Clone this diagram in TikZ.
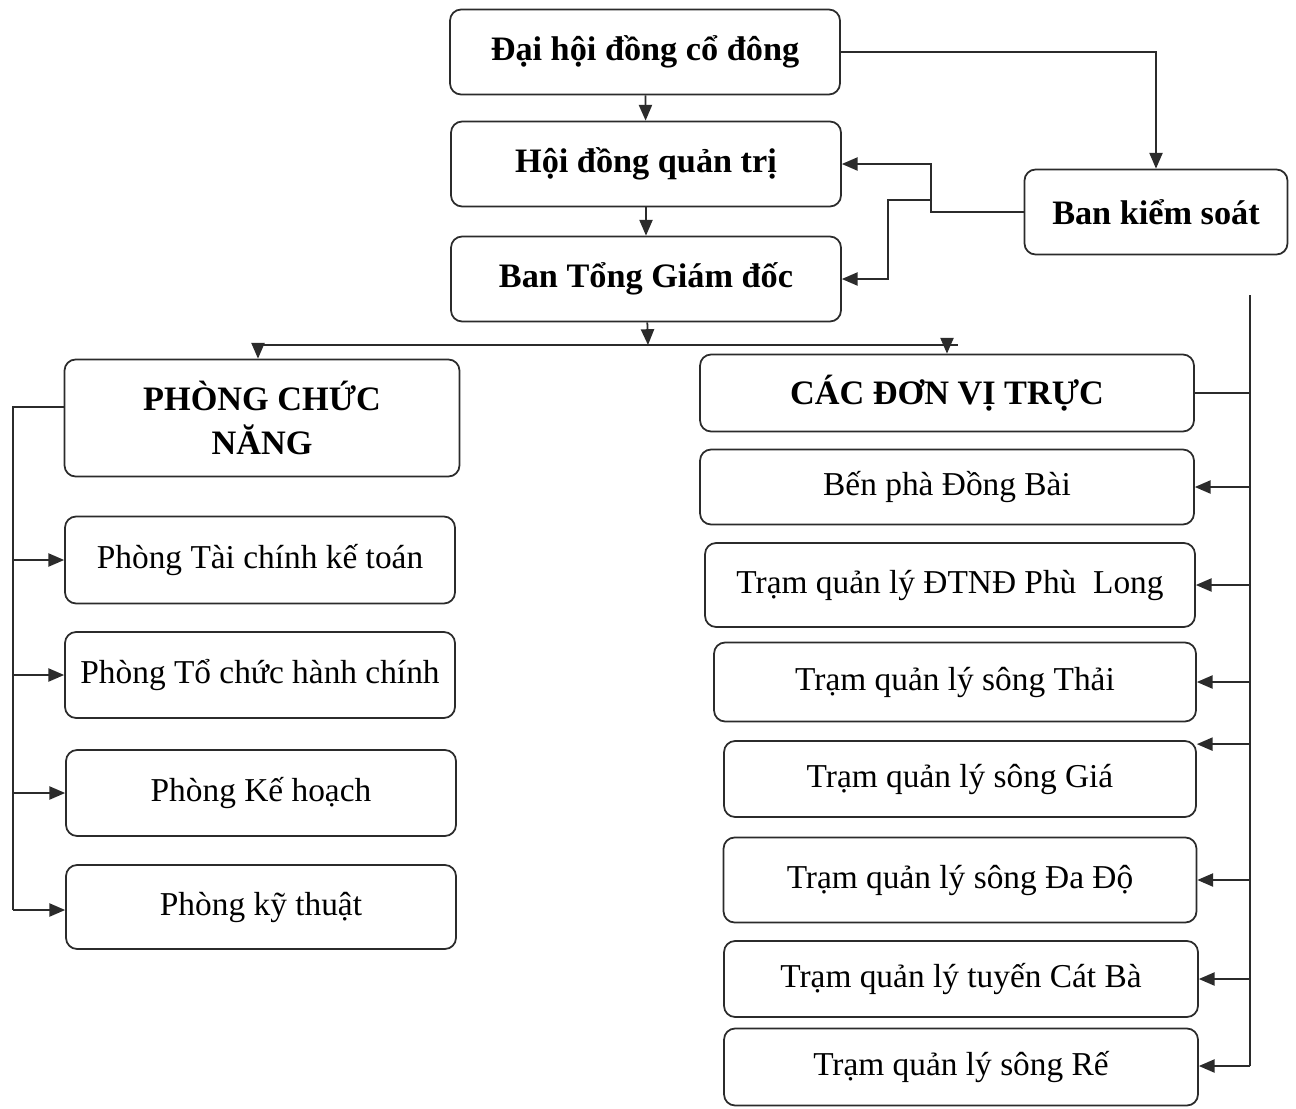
\documentclass[tikz,border=0pt]{standalone}
\usepackage{fontspec}
\setmainfont{Liberation Serif}
\usetikzlibrary{arrows.meta,positioning}
\definecolor{ink}{HTML}{2B2B2B}

\begin{document}
\begin{tikzpicture}[
    x=0.02cm, y=-0.02cm,
    every node/.style={font=\fontsize{19}{23}\selectfont},
    topbox/.style={rectangle, rounded corners=0.22cm, draw=ink, line width=1pt,
        minimum width=7.8cm, minimum height=1.7cm, align=center,
        font=\fontsize{19.5}{23}\selectfont\bfseries},
    headbox/.style={rectangle, rounded corners=0.22cm, draw=ink, line width=1pt,
        align=center, font=\fontsize{19.5}{25}\selectfont\bfseries},
    unitbox/.style={rectangle, rounded corners=0.22cm, draw=ink, line width=1pt,
        minimum height=1.6cm, align=center},
    link/.style={-{Triangle[length=9pt,width=7.5pt]}, draw=ink, line width=1pt},
    wire/.style={draw=ink, line width=1pt},
]
\useasboundingbox (0,0) rectangle (1296,1109);

% Top of the company
\node[topbox] (dhcd) at (645,52) {Đại hội đồng cổ đông};
\node[topbox] (hdqt) at (646,164) {Hội đồng quản trị};
\node[topbox] (btgd) at (646,279) {Ban Tổng Giám đốc};
\node[topbox, minimum width=5.26cm] (bks) at (1156,212) {Ban kiểm soát};

% Two branches
\node[headbox, minimum width=7.9cm, minimum height=2.34cm] (pcn) at (262,418) {PHÒNG CHỨC\\NĂNG};
\node[headbox, minimum width=9.88cm, minimum height=1.54cm] (cdvt) at (947,393) {CÁC ĐƠN VỊ TRỰC};

% Functional departments
\node[unitbox, minimum width=7.8cm, minimum height=1.74cm] (p1) at (260,560) {Phòng Tài chính kế toán};
\node[unitbox, minimum width=7.8cm, minimum height=1.72cm] (p2) at (260,675) {Phòng Tổ chức hành chính};
\node[unitbox, minimum width=7.8cm, minimum height=1.72cm] (p3) at (261,793) {Phòng Kế hoạch};
\node[unitbox, minimum width=7.8cm, minimum height=1.68cm] (p4) at (261,907) {Phòng kỹ thuật};

% Direct units
\node[unitbox, minimum width=9.88cm, minimum height=1.5cm] (r1) at (947,487) {Bến phà Đồng Bài};
\node[unitbox, minimum width=9.8cm, minimum height=1.68cm] (r2) at (950,585) {Trạm quản lý ĐTNĐ Phù\ \ Long};
\node[unitbox, minimum width=9.64cm, minimum height=1.58cm] (r3) at (955,682) {Trạm quản lý sông Thải};
\node[unitbox, minimum width=9.44cm, minimum height=1.52cm] (r4) at (960,779) {Trạm quản lý sông Giá};
\node[unitbox, minimum width=9.46cm, minimum height=1.7cm] (r5) at (960,880) {Trạm quản lý sông Đa Độ};
\node[unitbox, minimum width=9.48cm, minimum height=1.52cm] (r6) at (961,979) {Trạm quản lý tuyến Cát Bà};
\node[unitbox, minimum width=9.48cm, minimum height=1.54cm] (r7) at (961,1067) {Trạm quản lý sông Rế};

% Chain of command
\draw[link] (dhcd) -- (hdqt);
\draw[link] (hdqt) -- (btgd);
\draw[link] (dhcd.east) -| (bks.north);

% Supervisory board back to the board and directors
\draw[link] (bks.west) -- ++(-93,0) |- (hdqt.east);
\coordinate (ksmid) at (932,200);
\draw[link] (ksmid) -- ++(-44,0) |- (btgd.east);

% Split below the directors
\coordinate (bus) at (648,345);
\coordinate (busL) at (258,345);
\coordinate (busR) at (958,345);
\draw[link] (btgd) -- (bus);
\draw[wire] (busL) -- (busR);
\draw[link] (busL) -- (busL |- pcn.north);
\draw[link] (cdvt.north |- bus) -- (cdvt.north);

% Left bracket
\coordinate (ltop) at (13,407);
\coordinate (lbot) at (13,910);
\draw[wire] (pcn.west |- ltop) -- (ltop) -- (lbot);
\draw[link] (ltop |- p1) -- (p1);
\draw[link] (ltop |- p2) -- (p2);
\draw[link] (ltop |- p3) -- (p3);
\draw[link] (lbot) -- (lbot -| p4.west);

% Right bracket
\coordinate (rtop) at (1250,295);
\coordinate (rbot) at (1250,1066);
\draw[wire] (rtop) -- (rbot);
\draw[wire] (cdvt.east) -- (rtop |- cdvt.east);
\draw[link] (rtop |- r1) -- (r1);
\draw[link] (rtop |- r2) -- (r2);
\draw[link] (rtop |- r3) -- (r3);
\coordinate (r4in) at ([yshift=-0.08cm]r4.north east);
\draw[link] (rtop |- r4in) -- (r4in);
\draw[link] (rtop |- r5) -- (r5);
\draw[link] (rtop |- r6) -- (r6);
\draw[link] (rbot) -- (rbot -| r7.east);

\end{tikzpicture}
\end{document}
